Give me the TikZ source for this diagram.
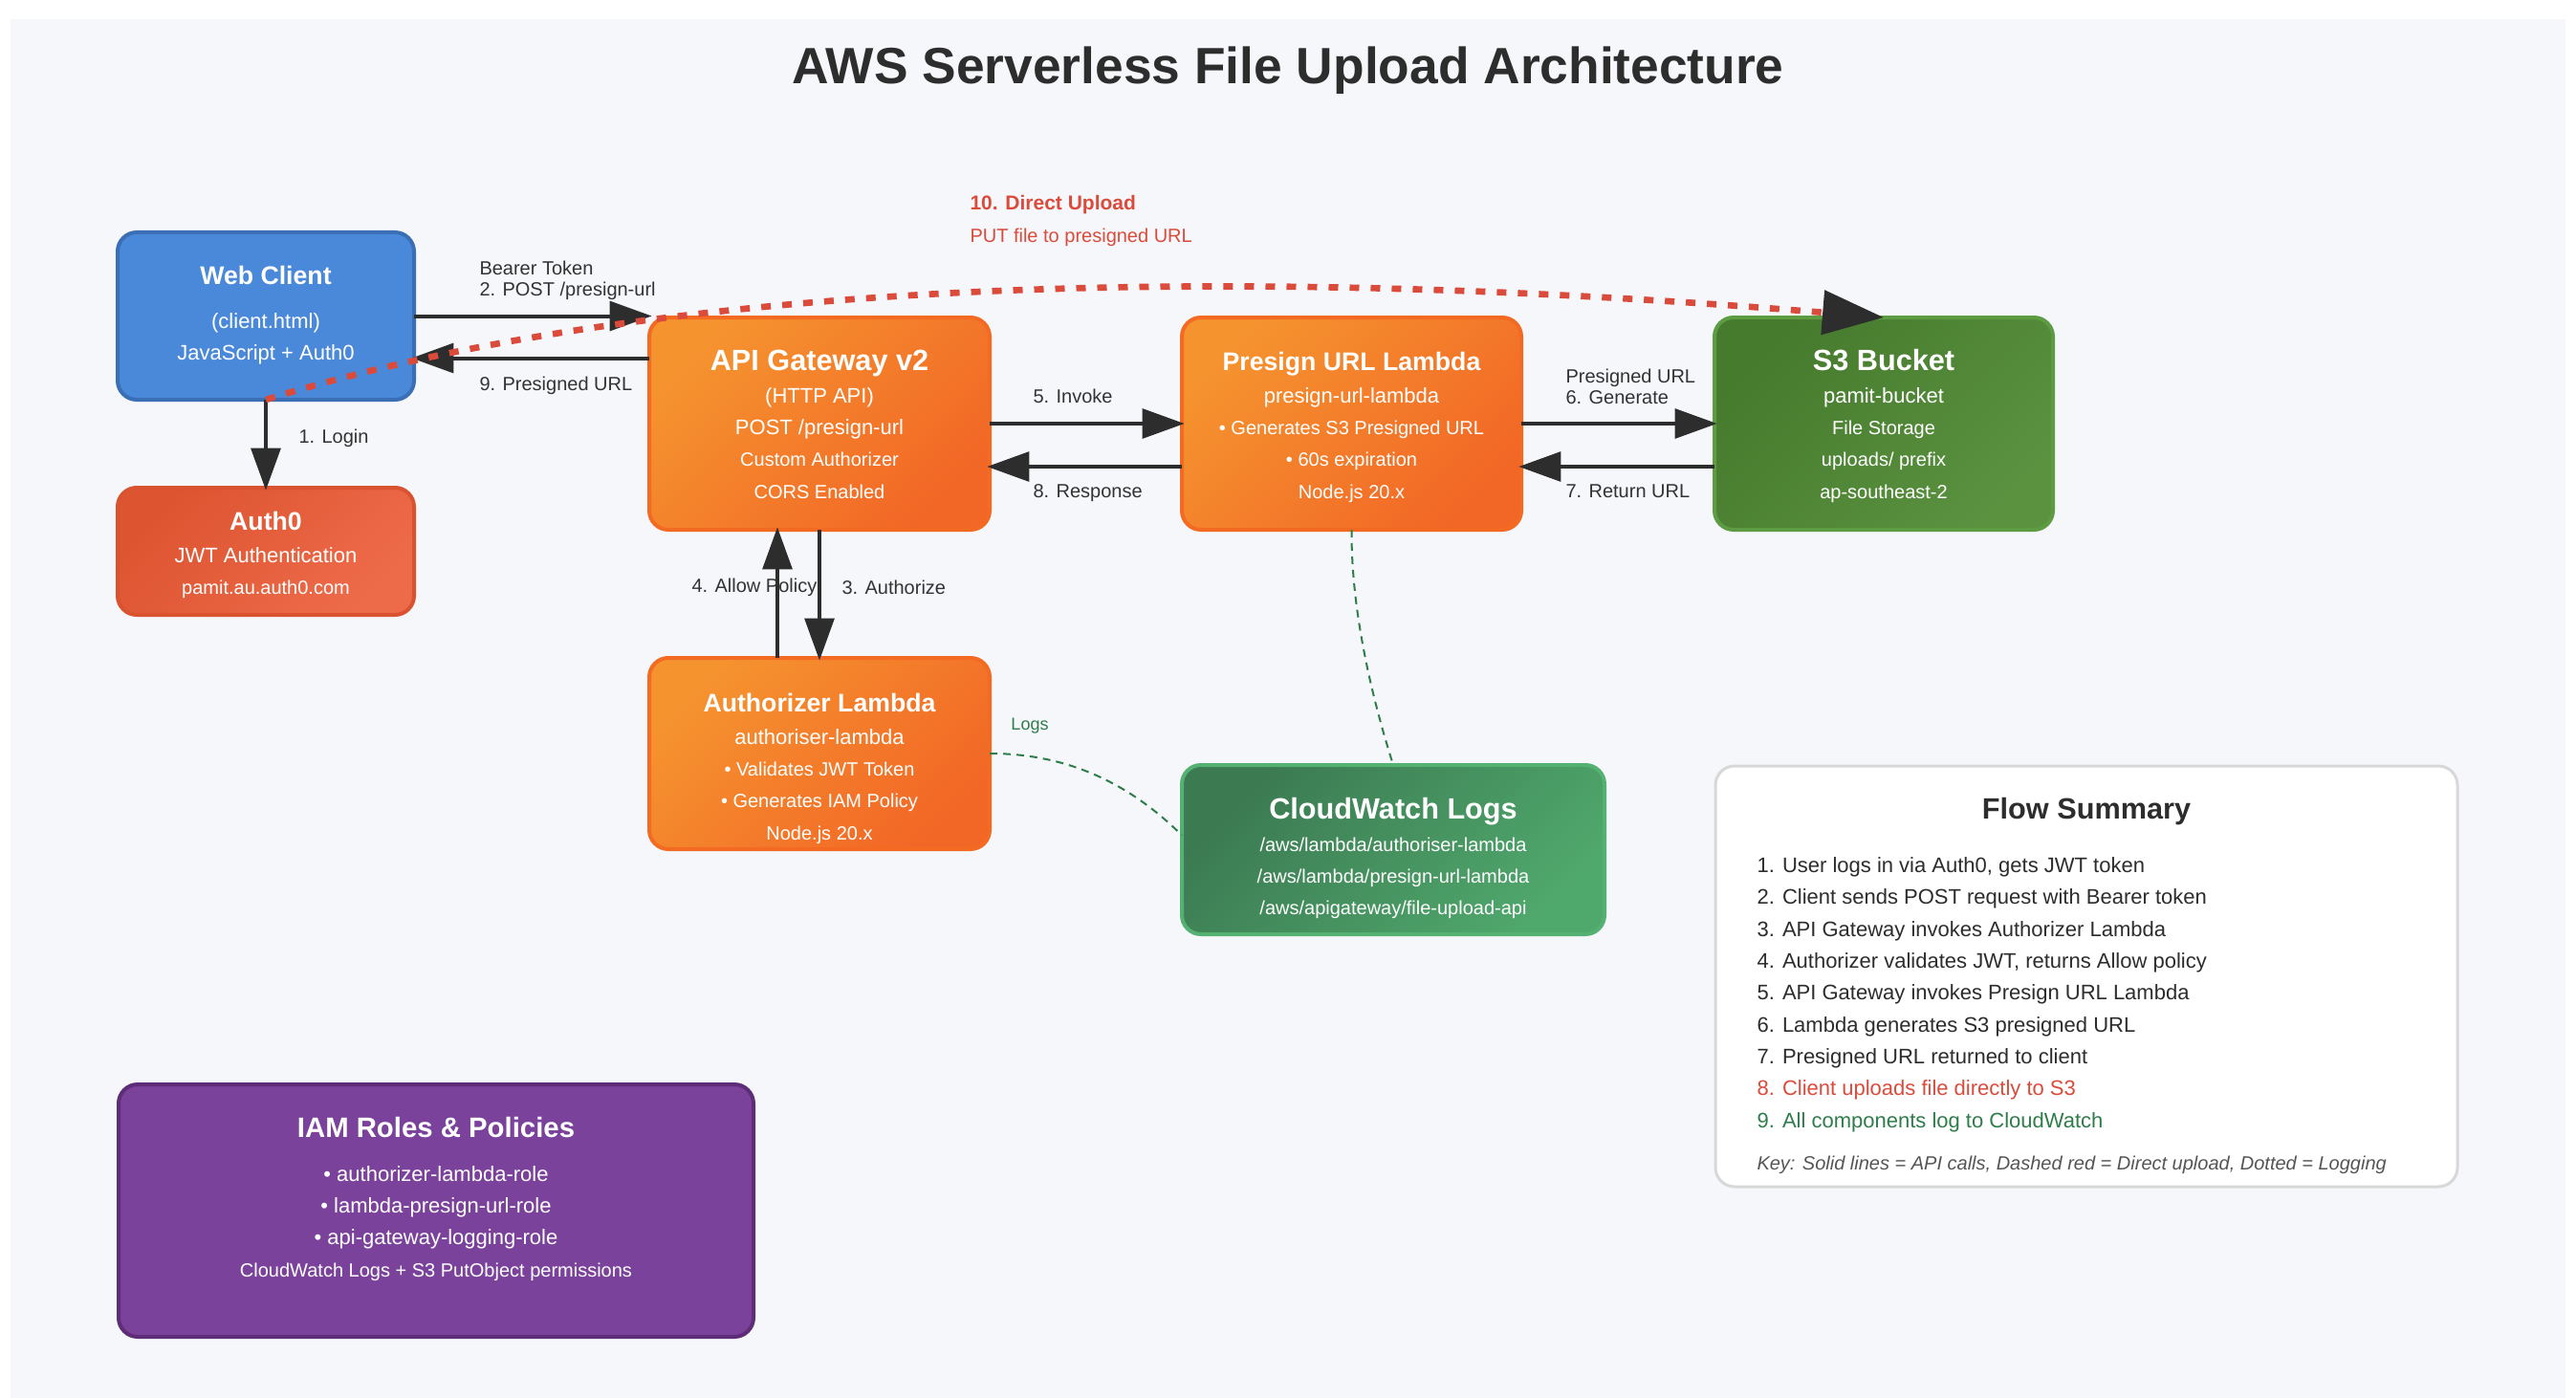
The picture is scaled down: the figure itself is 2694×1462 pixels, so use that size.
\documentclass[tikz,border=0pt]{standalone}
\usepackage{fontspec}
\setmainfont{Liberation Sans}
\usetikzlibrary{arrows.meta,calc,positioning}

\definecolor{bgcol}{HTML}{F5F7FA}
\definecolor{inkdark}{HTML}{2D2D2D}
\definecolor{lbltext}{HTML}{333333}
\definecolor{clientblue}{HTML}{4A89D9}
\definecolor{clientedge}{HTML}{3B6FB5}
\definecolor{authdark}{HTML}{DD5430}
\definecolor{authlight}{HTML}{EE6B4A}
\definecolor{authedge}{HTML}{DA5330}
\definecolor{orangetop}{HTML}{F5932F}
\definecolor{orangebot}{HTML}{F26726}
\definecolor{orangeedge}{HTML}{F36A22}
\definecolor{s3top}{HTML}{467A2D}
\definecolor{s3bot}{HTML}{5A9240}
\definecolor{s3edge}{HTML}{5E9C44}
\definecolor{cwtop}{HTML}{3C7A52}
\definecolor{cwbot}{HTML}{4FA86C}
\definecolor{cwedge}{HTML}{55B172}
\definecolor{iamfill}{HTML}{7B429B}
\definecolor{iamedge}{HTML}{5D2D77}
\definecolor{noteedge}{HTML}{D8D8D8}
\definecolor{upred}{HTML}{DB4B3C}
\definecolor{logsgreen}{HTML}{2E7D4A}
\definecolor{keygray}{HTML}{555555}

\newcommand{\titlesmall}{\fontsize{20}{25}\selectfont\bfseries}
\newcommand{\titlebig}{\fontsize{23}{25}\selectfont\bfseries}
\newcommand{\titleiam}{\fontsize{22}{25}\selectfont\bfseries}
\newcommand{\linemain}{\fontsize{16.5}{25}\selectfont}
\newcommand{\linesmall}{\fontsize{15}{25}\selectfont}
\newcommand{\edgefont}{\fontsize{15}{16.5}\selectfont}
\newcommand{\keyfont}{\fontsize{15}{25}\selectfont\itshape\color{keygray}}

\tikzset{every picture/.style={line width=0.75pt}}
\tikzset{
  svc/.style={draw, line width=3pt, rounded corners=15pt, inner sep=0pt, outer sep=0pt},
  bluebox/.style={svc, draw=clientedge, fill=clientblue},
  redbox/.style={svc, draw=authedge, top color=authdark, bottom color=authlight, shading angle=45},
  orangebox/.style={svc, draw=orangeedge, top color=orangetop, bottom color=orangebot, shading angle=45},
  greenbox/.style={svc, draw=s3edge, top color=s3top, bottom color=s3bot, shading angle=45},
  logbox/.style={svc, draw=cwedge, top color=cwtop, bottom color=cwbot, shading angle=45},
  iambox/.style={svc, draw=iamedge, fill=iamfill},
  notebox/.style={svc, line width=2.25pt, draw=noteedge, fill=white},
  boxtxt/.style={anchor=north, align=center, text=white, inner sep=0pt, font=\linemain},
  elabel/.style={anchor=west, align=left, inner sep=0pt, text=lbltext, font=\edgefont},
  flowarrow/.style={draw=inkdark, line width=3pt, -{Triangle[length=33pt, width=23pt]}, shorten >=-2pt},
  uploadline/.style={draw=upred, line width=5pt, dash pattern=on 7.5pt off 9pt, -{Triangle[length=48pt, width=34pt, color=inkdark]}},
  logline/.style={draw=logsgreen, line width=1.5pt, dash pattern=on 6pt off 4.5pt}
}

\begin{document}
\begin{tikzpicture}[x=0.75pt,y=0.75pt,yscale=-1,xscale=1]
\useasboundingbox (0,0) rectangle (2694,1462);
%background panel
\fill[bgcol] (11,20) rectangle (2683,1462);

% Title
\node[font=\fontsize{40}{48}\selectfont\bfseries, text=inkdark] (title) at (1347,74) {AWS Serverless File Upload Architecture};

%Shapes
\node[bluebox, minimum width=232.5pt, minimum height=131.25pt] (client) at (278,330.5) {};
\node[redbox, minimum width=232.5pt, minimum height=99.75pt] (auth0) at (278,576.5) {};
\node[orangebox, minimum width=267pt, minimum height=166.5pt] (api) at (857,443) {};
\node[orangebox, minimum width=266.25pt, minimum height=166.5pt] (presign) at (1413.5,443) {};
\node[greenbox, minimum width=265.5pt, minimum height=166.5pt] (s3) at (1970,443) {};
\node[orangebox, minimum width=267pt, minimum height=150pt] (authz) at (857,788) {};
\node[logbox, minimum width=331.5pt, minimum height=132.75pt] (cw) at (1457,888.5) {};
\node[iambox, minimum width=498pt, minimum height=198pt] (iam) at (456,1266) {};
\node[notebox, minimum width=582pt, minimum height=330pt] (flow) at (2182,1021) {};

%Straight Lines
\draw[flowarrow] (client.south) -- (auth0.north);
\draw[flowarrow] (client.east) -- (client.east -| api.west);
\draw[flowarrow] ($(api.west |- client.east)+(0,44)$) -- ($(client.east)+(0,44)$);
\draw[flowarrow] (api.south) -- (authz.north);
\draw[flowarrow] ($(authz.north)+(-44,0)$) -- ($(api.south)+(-44,0)$);
\draw[flowarrow] (api.east) -- (presign.west);
\draw[flowarrow] ($(presign.west)+(0,45)$) -- ($(api.east)+(0,45)$);
\draw[flowarrow] (presign.east) -- (s3.west);
\draw[flowarrow] ($(s3.west)+(0,45)$) -- ($(presign.east)+(0,45)$);

%Logging curves
\draw[logline] (presign.south) .. controls (1413,640) and (1435,730) .. (cw.north);
\draw[logline] (authz.east) .. controls (1112,788) and (1178,816) .. ($(cw.west)+(0,-15)$);

%Direct upload curve
\draw[uploadline] (client.south) .. controls (660,300) and (1226,271) .. (s3.north);

% Text Node
\node[boxtxt] (client-t) at ($(client.north)+(0,35)$) {{\titlesmall Web Client}\\[9pt](client.html)\\JavaScript + Auth0};
% Text Node
\node[boxtxt] (auth0-t) at ($(auth0.north)+(0,25)$) {{\titlesmall Auth0}\\JWT Authentication\\{\linesmall pamit.au.auth0.com}};
% Text Node
\node[boxtxt] (api-t) at ($(api.north)+(0,34)$) {{\titlebig API Gateway v2}\\(HTTP API)\\POST /presign-url\\{\linesmall Custom Authorizer}\\{\linesmall CORS Enabled}};
% Text Node
\node[boxtxt] (presign-t) at ($(presign.north)+(0,36)$) {{\titlesmall Presign URL Lambda}\\presign-url-lambda\\{\linesmall • Generates S3 Presigned URL}\\{\linesmall • 60s expiration}\\{\linesmall Node.js 20.x}};
% Text Node
\node[boxtxt] (s3-t) at ($(s3.north)+(0,33)$) {{\titlebig S3 Bucket}\\pamit-bucket\\{\linesmall File Storage}\\{\linesmall uploads/ prefix}\\{\linesmall ap-southeast-2}};
% Text Node
\node[boxtxt] (authz-t) at ($(authz.north)+(0,37)$) {{\titlesmall Authorizer Lambda}\\authoriser-lambda\\{\linesmall • Validates JWT Token}\\{\linesmall • Generates IAM Policy}\\{\linesmall Node.js 20.x}};
% Text Node
\node[boxtxt] (cw-t) at ($(cw.north)+(0,34)$) {{\titlebig CloudWatch Logs}\\{\linesmall /aws/lambda/authoriser-lambda}\\{\linesmall /aws/lambda/presign-url-lambda}\\{\linesmall /aws/apigateway/file-upload-api}};
% Text Node
\node[boxtxt] (iam-t) at ($(iam.north)+(0,33.5)$) {{\titleiam IAM Roles \& Policies}\\[9.5pt]• authorizer-lambda-role\\• lambda-presign-url-role\\• api-gateway-logging-role\\{\linesmall CloudWatch Logs + S3 PutObject permissions}};
% Text Node
\node[boxtxt, text=inkdark] (flow-t) at ($(flow.north)+(0,33)$) {{\titlebig Flow Summary}};
% Text Node
\node[anchor=north west, align=left, inner sep=0pt, font=\linemain, text=inkdark] (flow-list) at (1837,896) {1. User logs in via Auth0, gets JWT token\\2. Client sends POST request with Bearer token\\3. API Gateway invokes Authorizer Lambda\\4. Authorizer validates JWT, returns Allow policy\\5. API Gateway invokes Presign URL Lambda\\6. Lambda generates S3 presigned URL\\7. Presigned URL returned to client\\{\color{upred}8. Client uploads file directly to S3}\\{\color{logsgreen}9. All components log to CloudWatch}\\[8pt]{\keyfont Key: Solid lines = API calls, Dashed red = Direct upload, Dotted = Logging}};

% Text Node
\node[elabel] (lbl-post) at (501,293) {Bearer Token\\2. POST /presign-url};
% Text Node
\node[elabel] (lbl-url) at (501,403) {9. Presigned URL};
% Text Node
\node[elabel] (lbl-login) at (312,458) {1. Login};
% Text Node
\node[elabel] (lbl-invoke) at (1080,414) {5. Invoke};
% Text Node
\node[elabel] (lbl-resp) at (1080,516) {8. Response};
% Text Node
\node[elabel] (lbl-gen) at (1637,404) {Presigned URL\\6. Generate};
% Text Node
\node[elabel] (lbl-ret) at (1637,514) {7. Return URL};
% Text Node
\node[elabel] (lbl-allow) at (723,614) {4. Allow Policy};
% Text Node
\node[elabel] (lbl-authz) at (880,614) {3. Authorize};
% Text Node
\node[inner sep=0pt, text=logsgreen, font=\fontsize{13.5}{15}\selectfont] (lbl-logs) at (1077,759) {Logs};
% Text Node
\node[elabel, text=upred, font=\fontsize{15}{26}\selectfont] (lbl-upload) at (1014,231) {{\fontsize{15.75}{26}\selectfont\bfseries 10. Direct Upload}\\PUT file to presigned URL};

\end{tikzpicture}
\end{document}
